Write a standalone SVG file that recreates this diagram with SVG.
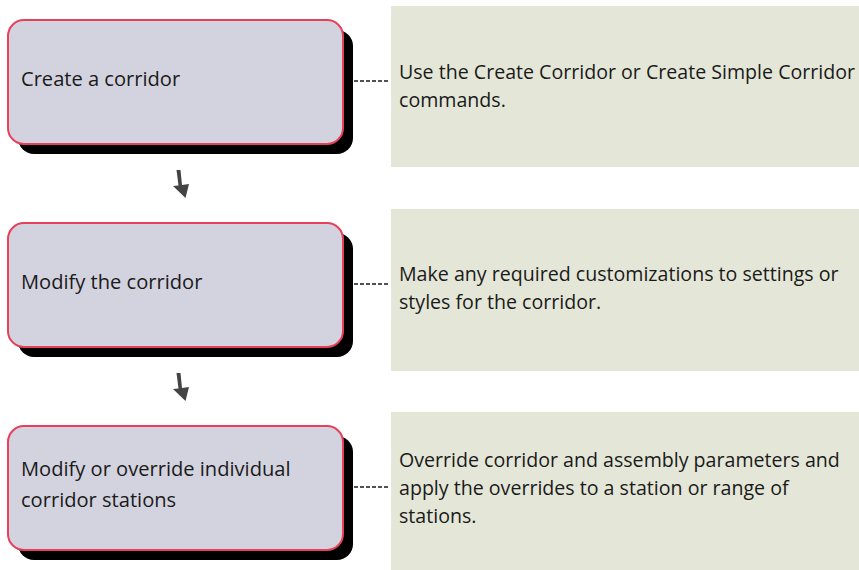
<svg xmlns="http://www.w3.org/2000/svg" width="859" height="570" viewBox="0 0 859 570">
<style>
.panel{fill:#e4e7d8;}
.shadow{fill:#000;}
.box{fill:#d3d3df;stroke:#e6405a;stroke-width:2;}
.t{font-family:"Open Sans","Noto Sans","Liberation Sans",sans-serif;font-size:19.6px;fill:#1a1a1a;}
.b{font-size:20.1px;}
.dash{stroke:#1a1a1a;stroke-width:1.3;stroke-dasharray:4 2;fill:none;}
.arr{fill:#444;}
</style>
<g id="panel1"><rect class="panel" x="391" y="6" width="468" height="161"/>
<text class="t" x="399" y="79">Use the Create Corridor or Create Simple Corridor</text>
<text class="t" x="399" y="107">commands.</text></g>
<g id="panel2"><rect class="panel" x="391" y="209" width="468" height="162"/>
<text class="t" x="399" y="281">Make any required customizations to settings or</text>
<text class="t" x="399" y="309">styles for the corridor.</text></g>
<g id="panel3"><rect class="panel" x="391" y="412" width="468" height="158"/>
<text class="t" x="399" y="467">Override corridor and assembly parameters and</text>
<text class="t" x="399" y="495">apply the overrides to a station or range of</text>
<text class="t" x="399" y="523">stations.</text></g>
<g id="node1"><rect class="shadow" x="18" y="30" width="335" height="124" rx="16"/>
<rect class="box" x="8" y="20" width="335" height="124" rx="16"/>
<text class="t b" x="21" y="86">Create a corridor</text></g>
<g id="node2"><rect class="shadow" x="18" y="233" width="335" height="124" rx="16"/>
<rect class="box" x="8" y="223" width="335" height="124" rx="16"/>
<text class="t b" x="21" y="289">Modify the corridor</text></g>
<g id="node3"><rect class="shadow" x="18" y="436" width="335" height="124" rx="16"/>
<rect class="box" x="8" y="426" width="335" height="124" rx="16"/>
<text class="t b" x="21" y="476">Modify or override individual</text>
<text class="t b" x="21" y="507">corridor stations</text></g>
<g id="connectors">
<path class="dash" d="M354 81H389"/>
<path class="dash" d="M354 284H389"/>
<path class="dash" d="M354 487H389"/>
<path class="arr" d="M176.5 170L180.5 170L182 185L189 184L185.5 198L173 186L178.5 185.5Z"/>
<path class="arr" d="M176.5 373L180.5 373L182 388L189 387L185.5 401L173 389L178.5 388.5Z"/>
</g>
</svg>
